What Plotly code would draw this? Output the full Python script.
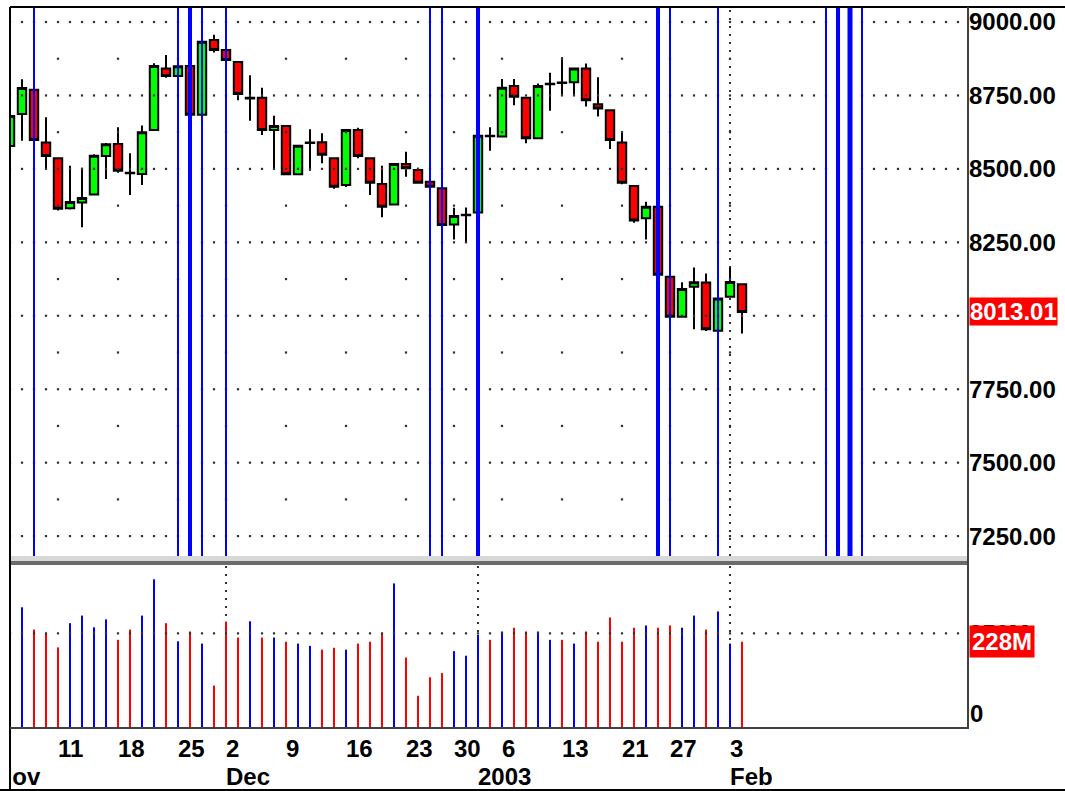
import pandas as pd
import plotly.graph_objects as go

# ---------------- data ----------------
holidays = ["2002-11-28", "2002-12-25", "2003-01-01", "2003-01-20"]
dates = pd.bdate_range("2002-11-05", "2003-02-04", freq="C", holidays=holidays)

opens = [8578, 8687, 8769, 8590, 8536, 8366, 8386, 8413, 8544, 8585,
         8487, 8483, 8632, 8842, 8816, 8850, 8684, 8939, 8905, 8864,
         8740, 8742, 8632, 8646, 8482, 8588, 8591, 8536, 8445, 8632,
         8536, 8449, 8379, 8517, 8496, 8456, 8434, 8311, 8342, 8352,
         8613, 8610, 8782, 8742, 8604, 8788, 8794, 8795, 8842, 8720,
         8700, 8590, 8442, 8332, 8371, 8133, 7997, 8099, 8113, 7949,
         8065, 8107]
highs = [8690, 8805, 8772, 8676, 8538, 8511, 8504, 8550, 8588, 8642,
         8553, 8648, 8860, 8888, 8871, 8855, 8940, 8957, 9060, 8866,
         8819, 8776, 8681, 8648, 8582, 8635, 8621, 8538, 8635, 8640,
         8538, 8511, 8519, 8558, 8504, 8573, 8436, 8368, 8369, 8615,
         8642, 8806, 8806, 8745, 8791, 8827, 8880, 8845, 8859, 8812,
         8702, 8627, 8444, 8388, 8373, 8156, 8114, 8164, 8144, 8061,
         8164, 8109]
lows = [8570, 8596, 8554, 8502, 8358, 8362, 8301, 8410, 8466, 8487,
        8411, 8445, 8630, 8810, 8763, 8678, 8682, 8896, 8792, 8734,
        8664, 8615, 8500, 8480, 8480, 8494, 8519, 8432, 8438, 8536,
        8411, 8335, 8377, 8473, 8450, 8419, 8294, 8260, 8249, 8350,
        8562, 8608, 8717, 8587, 8602, 8698, 8752, 8752, 8712, 8678,
        8568, 8448, 8317, 8260, 8122, 7959, 7995, 7954, 7948, 7920,
        8063, 7940]
closes = [8680, 8775, 8598, 8544, 8364, 8387, 8401, 8545, 8584, 8494,
          8485, 8625, 8850, 8816, 8849, 8684, 8933, 8905, 8871, 8755,
          8742, 8632, 8646, 8482, 8579, 8590, 8548, 8439, 8632, 8544,
          8453, 8371, 8517, 8502, 8453, 8439, 8309, 8340, 8344, 8613,
          8611, 8776, 8746, 8604, 8782, 8790, 8792, 8842, 8734, 8706,
          8598, 8453, 8324, 8371, 8140, 7997, 8091, 8114, 7954, 8059,
          8115, 8013.01]
volumes_m = [255, 319, 260, 250, 213, 277, 297, 266, 287, 233,
             260, 297, 393, 277, 229, 255, 223, 112, 281, 239,
             282, 239, 239, 228, 223, 217, 207, 212, 207, 223,
             228, 249, 382, 186, 85, 134, 145, 203, 191, 246,
             233, 255, 265, 255, 255, 233, 233, 223, 255, 228,
             292, 228, 265, 271, 265, 271, 265, 297, 260, 308,
             223, 228]

# cycle marker bars (trading-day index; repeated index = coinciding marks)
cycle_marks = [2, 14, 15, 15, 16, 18, 35, 36, 39, 39, 54, 54, 55, 59,
               68, 69, 69, 70, 70, 70, 71]

price_grid = [7250, 7500, 7750, 8000, 8250, 8500, 8750, 9000]
price_ticks = [7250, 7500, 7750, 8250, 8500, 8750, 9000]   # 8000 hidden by last-close tag
price_tick_labels = [f"{v:.2f}" for v in price_ticks]
price_minor = [v + 125 for v in price_grid[:-1]]
volume_ticks = [250]
volume_tick_labels = ["250M"]

# ---------------- geometry helpers ----------------
W, H = 1065, 791
ML, MR, MT, MB = 10, 97, 7, 2
PW, PH = W - ML - MR, H - MT - MB
def xp(px):
    return (px - ML) / PW
def yp(py):
    return (H - MB - py) / PH

SLOT = 12
n = len(closes)
idx = list(range(n))
x_range = [0, PW / SLOT]
n_slots = int(PW / SLOT) + 1
price_range = [7182.3, 9051.1]
vol_range = [0, 428]

FONT = "Liberation Sans, Arial, sans-serif"

# week starts & month starts derived from dates
week_starts = [i for i in range(1, n)
               if dates[i].isocalendar()[1] != dates[i - 1].isocalendar()[1]]
month_starts = [i for i in range(1, n) if dates[i].month != dates[i - 1].month]
def month_label(d):
    return str(d.year) if d.month == 1 else d.strftime("%b")

fig = go.Figure()

# dotted horizontal grid (major rows: every slot; minor rows: week starts)
gx, gy = [], []
for lv in price_grid:
    for k in range(n_slots):
        gx.append(k); gy.append(lv)
for lv in price_minor:
    for k in week_starts:
        gx.append(k); gy.append(lv)
fig.add_trace(go.Scatter(x=gx, y=gy, mode="markers", xaxis="x", yaxis="y",
                         marker=dict(symbol="square", size=2.2, color="#303030"),
                         hoverinfo="skip"))
vx, vy = [], []
for lv in volume_ticks:
    for k in range(n_slots):
        vx.append(k); vy.append(lv)
fig.add_trace(go.Scatter(x=vx, y=vy, mode="markers", xaxis="x2", yaxis="y2",
                         marker=dict(symbol="square", size=2.2, color="#303030"),
                         hoverinfo="skip"))

# blue cycle lines
counts = {}
for m in cycle_marks:
    counts[m] = counts.get(m, 0) + 1
width_for = {1: 2, 2: 4, 3: 5}
for c, w in width_for.items():
    lx, ly = [], []
    for m, cnt in counts.items():
        if cnt == c:
            lx += [m, m, None]
            ly += [price_range[0], price_range[1], None]
    if lx:
        fig.add_trace(go.Scatter(x=lx, y=ly, mode="lines", xaxis="x", yaxis="y",
                                 line=dict(color="#0000ff", width=w),
                                 hoverinfo="skip"))

# candles
fig.add_trace(go.Candlestick(
    x=idx, open=opens, high=highs, low=lows, close=closes,
    xaxis="x", yaxis="y",
    increasing=dict(line=dict(color="black", width=2), fillcolor="#00ff00"),
    decreasing=dict(line=dict(color="black", width=2), fillcolor="#ff0000"),
    whiskerwidth=0, hoverinfo="skip"))

# volume
vol_colors = ["#0000ff" if c >= o else "#ff0000" for o, c in zip(opens, closes)]
fig.add_trace(go.Bar(x=idx, y=volumes_m, xaxis="x2", yaxis="y2", width=0.17,
                     marker=dict(color=vol_colors, line=dict(width=0)),
                     hoverinfo="skip"))

# date labels band
fig.add_trace(go.Scatter(
    x=week_starts, y=[0.63] * len(week_starts), xaxis="x3", yaxis="y3",
    mode="text", text=[str(dates[i].day) for i in week_starts],
    textposition="middle right", cliponaxis=True,
    textfont=dict(family=FONT, size=24, color="black", weight="bold"),
    hoverinfo="skip"))
month_x = [-1.25] + month_starts
month_txt = [month_label(dates[0])] + [month_label(dates[i]) for i in month_starts]
fig.add_trace(go.Scatter(
    x=month_x, y=[0.165] * len(month_x), xaxis="x3", yaxis="y3",
    mode="text", text=month_txt,
    textposition="middle right", cliponaxis=True,
    textfont=dict(family=FONT, size=24, color="black", weight="bold"),
    hoverinfo="skip"))

shapes = []
# month dotted verticals
for i in month_starts:
    for yr in ("y domain", "y2 domain"):
        shapes.append(dict(type="line", xref="x" if yr == "y domain" else "x2",
                           yref=yr, x0=i, x1=i, y0=0, y1=1, layer="below",
                           line=dict(color="#303030", width=2, dash="2px,6px")))
# separator between panels
shapes.append(dict(type="rect", xref="paper", yref="paper",
                   x0=xp(10), x1=xp(969), y0=yp(561), y1=yp(556),
                   fillcolor="#d8d8d8", line=dict(width=0), layer="above"))
shapes.append(dict(type="rect", xref="paper", yref="paper",
                   x0=xp(10), x1=xp(969), y0=yp(565), y1=yp(561),
                   fillcolor="#6a6a6a", line=dict(width=0), layer="above"))
# frame lines
line_specs = [
    (10, 7, 1065, 7, "black"),
    (10, 7, 10, 791, "black"),
    (0, 790, 1065, 790, "black"),
    (968, 7, 968, 728, "#404040"),
    (10, 728, 969, 728, "#404040"),
]
for x0, y0, x1, y1, col in line_specs:
    shapes.append(dict(type="line", xref="paper", yref="paper",
                       x0=xp(x0), x1=xp(x1), y0=yp(y0), y1=yp(y1),
                       line=dict(color=col, width=2), layer="above"))

annotations = [
    dict(text=f"{closes[-1]:.2f}", xref="paper", yref="y", x=xp(969), y=closes[-1],
         xanchor="left", yanchor="middle", showarrow=False, bgcolor="#ff0000",
         font=dict(family=FONT, size=24, color="white", weight="bold"), borderpad=0),
    dict(text=f"{volumes_m[-1]:.0f}M", xref="paper", yref="y2", x=xp(969), y=volumes_m[-1],
         xanchor="left", yanchor="middle", showarrow=False, bgcolor="#ff0000",
         font=dict(family=FONT, size=24, color="white", weight="bold"), borderpad=2),
    dict(text="0", xref="paper", yref="y2", x=xp(969), y=0,
         xanchor="left", yanchor="bottom", showarrow=False,
         font=dict(family=FONT, size=24, color="black", weight="bold"), borderpad=0),
]

axis_hidden = dict(visible=False, showgrid=False, zeroline=False, fixedrange=True)
fig.update_layout(
    width=W, height=H, margin=dict(l=ML, r=MR, t=MT, b=MB),
    paper_bgcolor="white", plot_bgcolor="white", showlegend=False,
    hovermode=False, boxgap=0.3, boxgroupgap=0,
    xaxis=dict(axis_hidden, domain=[0, 1], range=x_range, anchor="y",
               rangeslider=dict(visible=False)),
    yaxis=dict(domain=[yp(556), 1], range=price_range, side="right", anchor="x",
               tickvals=price_ticks, ticktext=price_tick_labels, ticks="",
               showgrid=False, zeroline=False, showline=False,
               tickfont=dict(family=FONT, size=24, color="black", weight="bold")),
    xaxis2=dict(axis_hidden, domain=[0, 1], range=x_range, anchor="y2"),
    yaxis2=dict(domain=[yp(728), yp(566)], range=vol_range, side="right", anchor="x2",
                tickvals=volume_ticks, ticktext=volume_tick_labels, ticks="",
                showgrid=False, zeroline=False, showline=False,
                tickfont=dict(family=FONT, size=24, color="black", weight="bold")),
    xaxis3=dict(axis_hidden, domain=[0, 1], range=x_range, anchor="y3"),
    yaxis3=dict(axis_hidden, domain=[0, yp(728)], range=[0, 1], anchor="x3"),
    shapes=shapes, annotations=annotations,
)

fig.write_html("out.html", config={"displayModeBar": False},
               post_script="document.body.style.margin='0px';"
                           "document.body.style.overflow='hidden';")
